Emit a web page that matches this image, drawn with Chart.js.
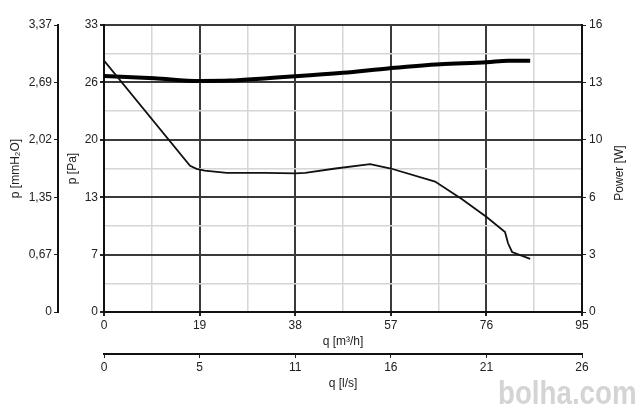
<!DOCTYPE html>
<html>
<head>
<meta charset="utf-8">
<script src="https://cdn.jsdelivr.net/npm/chart.js@4.4.1/dist/chart.umd.min.js"></script>
<style>
  body { margin: 0; background: #fff; }
  #wrap { position: relative; width: 640px; height: 412px; }
  #mark { position: absolute; left: 498px; top: 374px; font: bold 33px "Liberation Sans", Arial, sans-serif; color: #d4d4d4; transform: scaleX(0.84); transform-origin: left top; white-space: nowrap; }
</style>
</head>
<body>
<div id="wrap">
  <canvas id="myChart" width="640" height="412"></canvas>
  <div id="mark">bolha.com</div>
</div>
<script>
// curva de presion (linea fina)
const qPresion = [0, 17.1, 18.4, 20, 24.4, 32, 38, 40, 46, 52.9, 57, 65.8, 71.1, 76.1, 79.7, 80.3, 81.1, 84.7];
const presion = [28.9, 16.8, 16.45, 16.25, 16.0, 16.0, 15.95, 16.0, 16.5, 17.0, 16.5, 15.0, 13.0, 10.9, 9.2, 7.9, 6.9, 6.1];

// curva de potencia (linea gruesa)
const qPotencia = [0, 10, 19, 25, 33, 38, 47.5, 56.8, 66.8, 76.1, 80.3, 84.7];
const potencia = [13.16, 13.03, 12.88, 12.9, 13.05, 13.14, 13.34, 13.59, 13.81, 13.92, 14.01, 14.01];

// etiquetas de los ejes
const ticksPa = ['0', '7', '13', '20', '26', '33'];
const ticksMm = ['0', '0,67', '1,35', '2,02', '2,69', '3,37'];
const ticksPower = ['0', '3', '6', '10', '13', '16'];
const ticksM3h = ['0', '19', '38', '57', '76', '95'];
const ticksLs = ['0', '5', '11', '16', '21', '26'];

const maxPa = 33, maxMm = 3.37, maxPower = 16, maxM3h = 95, maxLs = 26;

const fuente = { family: '"Liberation Sans", Arial, sans-serif', size: 12 };
const negro = '#222';

// n divisiones iguales entre 0 y max
function divisiones(max, n) {
    let t = [];
    for (let i = 0; i <= n; i++) t.push({ value: max * i / n });
    return t;
}

function puntos(xs, ys) {
    return xs.map((x, i) => ({ x: x, y: ys[i] }));
}

// eje con rejilla mayor y menor
function ejeConRejilla(max, etiquetas, pos) {
    return {
        type: 'linear', position: pos, min: 0, max: max,
        afterBuildTicks: s => { s.ticks = divisiones(max, 10); },
        ticks: {
            autoSkip: false, maxRotation: 0, padding: 2, color: negro, font: fuente,
            callback: (v, i) => i % 2 ? '' : etiquetas[i / 2]
        },
        grid: {
            color: c => c.index % 2 ? '#d6d6d6' : '#3a3a3a',
            lineWidth: c => c.index % 2 ? 1.5 : 2,
            tickColor: c => c.index % 2 ? 'rgba(0,0,0,0)' : negro,
            tickLength: 4
        },
        border: { color: '#111', width: 2 }
    };
}

// eje secundario sin rejilla
function ejeSimple(max, etiquetas, pos) {
    return {
        type: 'linear', position: pos, min: 0, max: max,
        afterBuildTicks: s => { s.ticks = divisiones(max, 5); },
        ticks: {
            autoSkip: false, maxRotation: 0, padding: 2, color: negro, font: fuente,
            callback: (v, i) => etiquetas[i]
        },
        grid: { drawOnChartArea: false, tickLength: 4, color: negro, tickColor: negro },
        border: { color: '#111', width: 2 }
    };
}

const x = ejeConRejilla(maxM3h, ticksM3h, 'bottom');
x.title = { display: true, text: 'q [m³/h]', color: negro, font: fuente, padding: { top: 0, bottom: 5 } };
x.afterFit = s => { s.height = 42; };

const x2 = ejeSimple(maxLs, ticksLs, 'bottom');
x2.weight = 1;
x2.title = { display: true, text: 'q [l/s]', color: negro, font: fuente, padding: { top: 0, bottom: 5 } };
x2.afterFit = s => { s.height = 42; };

const y = ejeConRejilla(maxPa, ticksPa, 'left');
y.title = { display: true, text: 'p [Pa]', color: negro, font: fuente, padding: { top: 7, bottom: 0 } };
y.afterFit = s => { s.width = 46; };

const yMm = ejeSimple(maxMm, ticksMm, 'left');
yMm.weight = 1;
yMm.title = { display: true, text: 'p [mmH₂O]', color: negro, font: fuente, padding: { top: 8, bottom: 0 } };
yMm.afterFit = s => { s.width = 58; };

const yPow = ejeSimple(maxPower, ticksPower, 'right');
yPow.ticks.padding = 3;
yPow.afterFit = s => { s.width = 58; };

// titulo del eje derecho girado como los de la izquierda
const tituloDerecho = {
    id: 'tituloDerecho',
    afterDraw(chart) {
        const c = chart.ctx;
        c.save();
        c.translate(620, 173);
        c.rotate(-Math.PI / 2);
        c.font = '12px "Liberation Sans", Arial, sans-serif';
        c.fillStyle = negro;
        c.textAlign = 'center';
        c.textBaseline = 'middle';
        c.fillText('Power [W]', 0, 0);
        c.restore();
    }
};

const config = {
    type: 'line',
    data: {
        datasets: [{
            label: 'p',
            data: puntos(qPresion, presion),
            xAxisID: 'x', yAxisID: 'y',
            borderColor: '#111', borderWidth: 1.8,
            pointRadius: 0, tension: 0, fill: false
        }, {
            label: 'Power',
            data: puntos(qPotencia, potencia),
            xAxisID: 'x', yAxisID: 'yPow',
            borderColor: '#000', borderWidth: 4,
            pointRadius: 0, cubicInterpolationMode: 'monotone', fill: false
        }]
    },
    options: {
        responsive: false,
        animation: false,
        layout: { padding: { top: 25, right: 0, bottom: 16, left: 0 } },
        plugins: { legend: { display: false }, tooltip: { enabled: false } },
        scales: { x: x, x2: x2, y: y, yMm: yMm, yPow: yPow }
    },
    plugins: [tituloDerecho]
};

const myChart = new Chart(document.getElementById('myChart'), config);
</script>
</body>
</html>
